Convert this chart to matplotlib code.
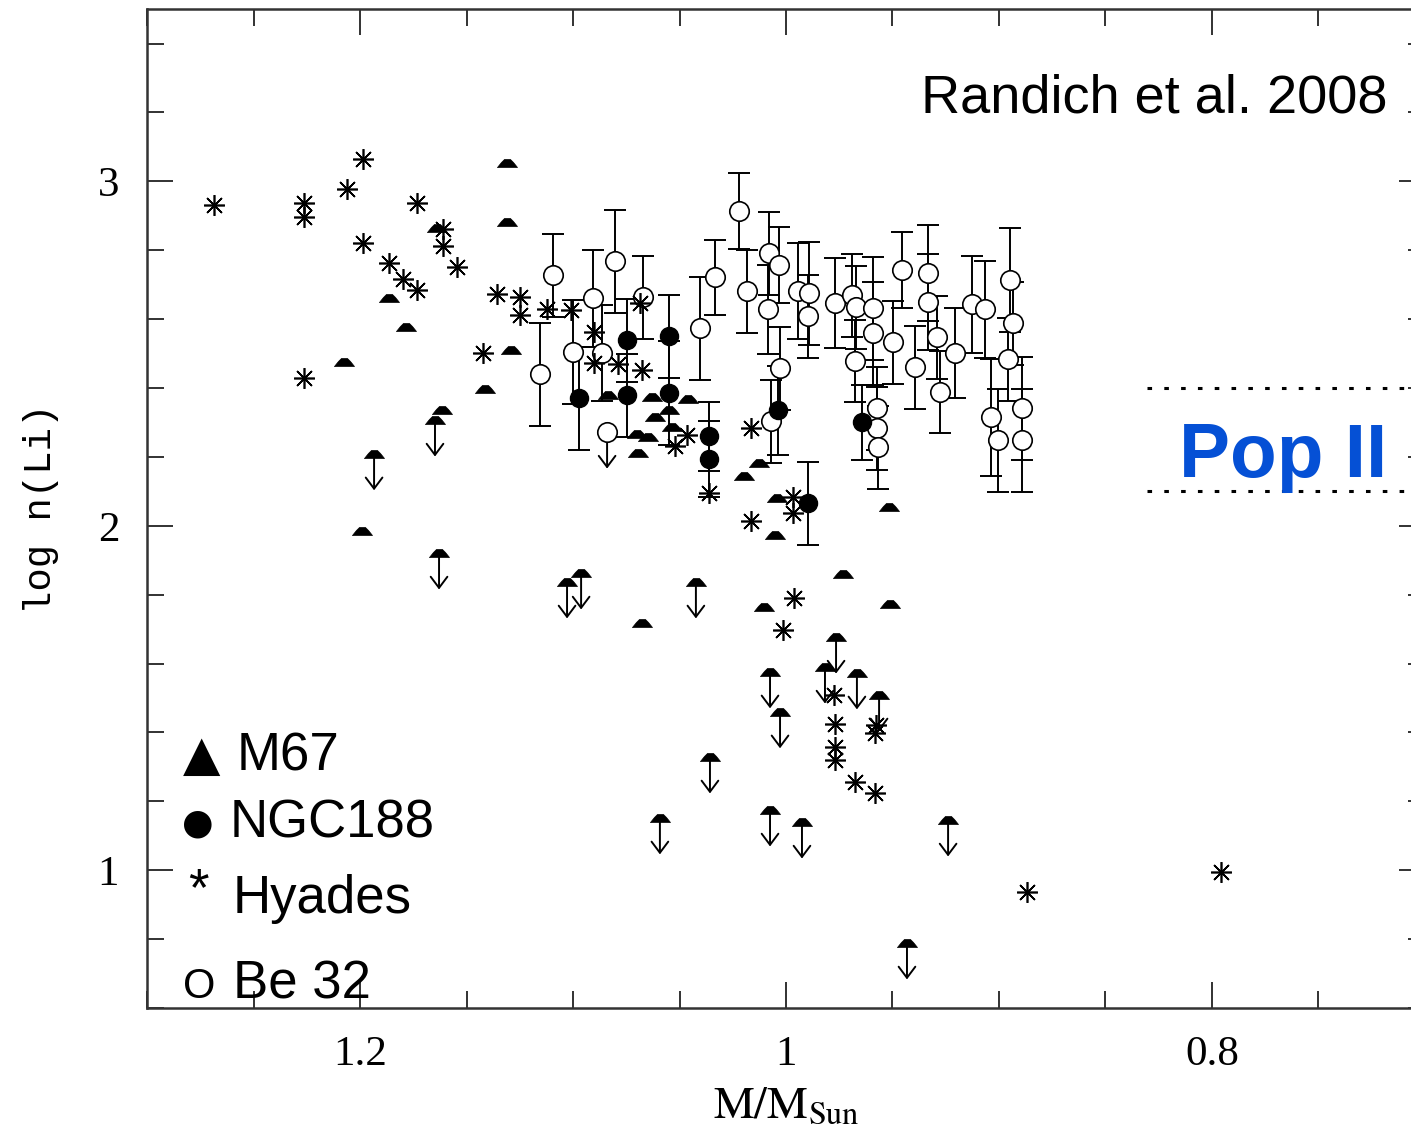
import matplotlib
matplotlib.use("Agg")
import matplotlib.pyplot as plt
from matplotlib.ticker import MultipleLocator, FixedLocator

plt.rcParams['mathtext.fontset'] = 'stix'

# Hyades (asterisks)
hyades_mass = [1.2685, 1.2263, 1.2263, 1.1986, 1.2061, 1.1732, 1.1986, 1.1864, 1.1798, 1.1732,
               1.1610, 1.1610, 1.1545, 1.2263, 1.1357, 1.1249, 1.1249, 1.1122, 1.1423, 1.1009,
               1.0901, 1.0901, 1.0789, 1.0676, 1.0685, 1.0465, 1.0521, 1.0362, 1.0164, 1.0164,
               0.9967, 0.9967, 0.9962, 1.0014, 0.9775, 0.9770, 0.9770, 0.9770, 0.9577, 0.9582,
               0.9676, 0.9582, 0.8869, 0.7958]
hyades_li = [2.930, 2.936, 2.895, 3.064, 2.977, 2.936, 2.820, 2.762, 2.716, 2.684,
             2.861, 2.811, 2.750, 2.428, 2.672, 2.663, 2.611, 2.628, 2.501, 2.626,
             2.562, 2.472, 2.469, 2.451, 2.646, 2.263, 2.231, 2.094, 2.283, 2.013,
             2.083, 2.036, 1.790, 1.697, 1.508, 1.424, 1.357, 1.319, 1.421, 1.398,
             1.255, 1.224, 0.936, 0.994]

# M67 detections (triangles)
m67_mass = [1.1310, 1.1310, 1.1638, 1.1864, 1.1784, 1.2075, 1.1291, 1.1413, 1.1615, 1.1991,
            1.0676, 1.0836, 1.0629, 1.0460, 1.0549, 1.0615, 1.0535, 1.0700, 1.0648, 1.0695,
            1.0127, 1.0197, 1.0042, 1.0052, 0.9516, 0.9732, 0.9512, 1.0103]
m67_li = [3.052, 2.881, 2.864, 2.660, 2.576, 2.475, 2.509, 2.396, 2.335, 1.984,
          1.717, 2.379, 2.373, 2.367, 2.335, 2.315, 2.286, 2.266, 2.257, 2.210,
          2.181, 2.144, 2.080, 1.972, 2.054, 1.859, 1.772, 1.763]

# M67 upper limits (triangle + arrow)
m67_lim_mass = [1.1934, 1.1648, 1.1629, 1.1028, 1.0962, 1.0423, 1.0075, 0.9765, 0.9817,
                0.9667, 0.9563, 1.0028, 1.0357, 1.0592, 1.0075, 0.9925, 0.9239, 0.9432]
m67_lim_li = [2.208, 2.306, 1.920, 1.836, 1.862, 1.836, 1.575, 1.676, 1.589,
              1.572, 1.508, 1.459, 1.328, 1.151, 1.174, 1.139, 1.145, 0.788]

# NGC188 (filled circles)
ngc188_mass = [1.0972, 1.0746, 1.0746, 1.0549, 1.0549, 1.0362, 1.0362, 1.0038, 0.9897, 0.9643]
ngc188_li = [2.370, 2.538, 2.379, 2.550, 2.385, 2.260, 2.193, 2.335, 2.065, 2.300]
ngc188_err = [0.15, 0.12, 0.12, 0.12, 0.15, 0.10, 0.11, 0.13, 0.12, 0.11]

# Be 32 (open circles)
be32_mass = [1.1155, 1.1094, 1.1000, 1.0906, 1.0864, 1.0803, 1.0671, 1.0404, 1.0333, 1.0221,
             1.0183, 1.0080, 1.0033, 1.0085, 0.9944, 0.9892, 0.9897, 1.0028, 1.0070, 0.9770,
             0.9690, 0.9671, 0.9676, 0.9592, 0.9592, 0.9498, 0.9455, 0.9394, 0.9333, 0.9333,
             0.9291, 0.9277, 0.9207, 0.9127, 0.9066, 0.8948, 0.8934, 0.8958, 0.9038, 0.9005,
             0.8892, 0.8892, 0.9573, 0.9573, 0.9568]
be32_li = [2.440, 2.727, 2.504, 2.660, 2.501, 2.768, 2.663, 2.573, 2.721, 2.913,
           2.681, 2.791, 2.756, 2.628, 2.681, 2.675, 2.608, 2.457, 2.303, 2.646,
           2.669, 2.634, 2.478, 2.631, 2.559, 2.533, 2.742, 2.460, 2.733, 2.649,
           2.547, 2.388, 2.501, 2.643, 2.628, 2.713, 2.588, 2.483, 2.315, 2.248,
           2.341, 2.248, 2.341, 2.283, 2.228]
be32_err = [0.15, 0.12, 0.15, 0.14, 0.14, 0.15, 0.12, 0.15, 0.11, 0.11,
            0.12, 0.12, 0.11, 0.13, 0.14, 0.15, 0.12, 0.12, 0.12, 0.13,
            0.12, 0.12, 0.12, 0.15, 0.15, 0.12, 0.11, 0.12, 0.14, 0.14,
            0.12, 0.12, 0.13, 0.14, 0.14, 0.15, 0.12, 0.12, 0.17, 0.15,
            0.15, 0.15, 0.12, 0.12, 0.12]

# Be 32 upper limit
be32_lim_mass = [1.0840]
be32_lim_li = [2.271]

# Pop II plateau band
popII_lo, popII_hi = 2.1, 2.4
popII_xstart = 0.8305

fig = plt.figure(figsize=(14.11, 11.33), dpi=100)
ax = fig.add_axes([0.1042, 0.1103, 0.9057, 0.8817])

dome = [(-1, -0.4), (-0.6, 0.1), (-0.3, 0.4), (0.3, 0.4), (0.6, 0.1), (1, -0.4), (-1, -0.4)]
arrow_len = 0.105
arrow_style = dict(arrowstyle='->,head_length=0.4,head_width=0.3', lw=1.4, color='black',
                   shrinkA=0, shrinkB=0, mutation_scale=20)

# error bars
ax.errorbar(be32_mass, be32_li, yerr=be32_err, fmt='none', ecolor='black',
            elinewidth=1.4, capsize=8, capthick=1.4, zorder=2)
ax.errorbar(ngc188_mass, ngc188_li, yerr=ngc188_err, fmt='none', ecolor='black',
            elinewidth=1.4, capsize=8, capthick=1.4, zorder=2)

# Be 32
ax.plot(be32_mass, be32_li, 'o', ms=14, mfc='white', mec='black', mew=1.2, zorder=3)
ax.plot(be32_lim_mass, be32_lim_li, 'o', ms=14, mfc='white', mec='black', mew=1.2, zorder=3)
for m, li in zip(be32_lim_mass, be32_lim_li):
    ax.annotate('', xy=(m, li - arrow_len), xytext=(m, li), arrowprops=arrow_style, zorder=2)

# NGC188
ax.plot(ngc188_mass, ngc188_li, 'o', ms=13, mfc='black', mec='black', zorder=4)

# Hyades
ax.plot(hyades_mass, hyades_li, ls='none', marker=(8, 2, 0), ms=15, mec='black',
        mew=1.2, zorder=4)

# M67
ax.plot(m67_mass, m67_li, ls='none', marker=dome, ms=14.4, mfc='black', mec='black',
        mew=0.5, zorder=4)
ax.plot(m67_lim_mass, m67_lim_li, ls='none', marker=dome, ms=14.4, mfc='black',
        mec='black', mew=0.5, zorder=4)
for m, li in zip(m67_lim_mass, m67_lim_li):
    ax.annotate('', xy=(m, li - arrow_len), xytext=(m, li), arrowprops=arrow_style, zorder=3)

# Pop II band
ax.hlines([popII_lo, popII_hi], popII_xstart, 0.7, colors='black', lw=2.2,
          linestyles=[(0, (1.5, 4))])
ax.text(0.7667, 2.141, 'Pop II', color='#0550D5', fontsize=55, fontweight='bold',
        family='Liberation Sans', ha='center', va='baseline')

ax.text(0.7174, 3.200, 'Randich et al. 2008', fontsize=39, family='Liberation Sans',
        ha='right', va='baseline')

# hand-made legend
leg_x = 1.2596
ax.text(1.2742, 1.290, '\u25B2', fontsize=35, family='DejaVu Sans', ha='center', va='baseline')
ax.text(leg_x - 0.0019, 1.290, 'M67', fontsize=38, family='Liberation Sans', va='baseline')
ax.text(1.276, 1.108, '\u25CF', fontsize=26, family='DejaVu Sans', ha='center', va='baseline')
ax.text(leg_x + 0.0014, 1.096, 'NGC188', fontsize=38, family='Liberation Sans', va='baseline')
ax.text(1.2757, 0.900, '*', fontsize=38, family='Liberation Sans', ha='center', va='baseline')
ax.text(leg_x, 0.875, 'Hyades', fontsize=38, family='Liberation Sans', va='baseline')
ax.text(1.2757, 0.628, 'O', fontsize=30, family='Liberation Sans', ha='center', va='baseline')
ax.text(leg_x, 0.628, 'Be 32', fontsize=38, family='Liberation Sans', va='baseline')

ax.set_xlim(1.3, 0.7)
ax.set_ylim(0.6, 3.5)

ax.xaxis.set_major_locator(FixedLocator([1.2, 1.0, 0.8]))
ax.xaxis.set_minor_locator(MultipleLocator(0.05))
ax.yaxis.set_major_locator(MultipleLocator(1))
ax.yaxis.set_minor_locator(MultipleLocator(0.2))
ax.set_xticklabels(['1.2', '1', '0.8'])
ax.tick_params(which='both', direction='in', top=True, right=True, color='#222222')
ax.tick_params(which='major', length=19, width=1.3, labelsize=31, pad=20)
ax.tick_params(which='minor', length=12, width=1.3)
for lab in ax.get_xticklabels() + ax.get_yticklabels():
    lab.set_family('Liberation Serif')
for sp in ax.spines.values():
    sp.set_linewidth(1.8)
    sp.set_color('#333333')

ax.set_xlabel(r'$\mathrm{M/M_{Sun}}$', fontsize=33, labelpad=6)
ax.set_ylabel('log n(Li)', fontsize=28, family='Liberation Mono', labelpad=28)

fig.savefig('out.png', dpi=100)
